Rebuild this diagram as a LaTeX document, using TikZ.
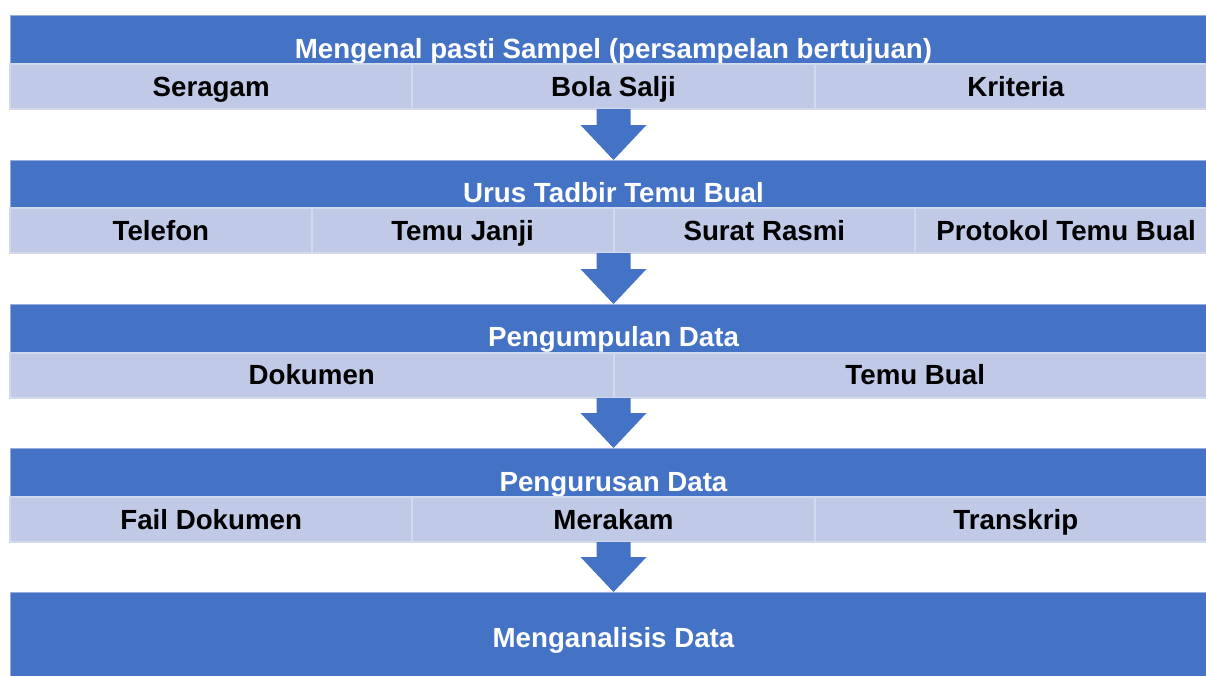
\documentclass[tikz,border=0pt]{standalone}
\usepackage{fontspec}
\setmainfont{Liberation Sans}
\usetikzlibrary{calc}

\definecolor{barblue}{RGB}{68,114,196}
\definecolor{baredge}{RGB}{150,172,218}
\definecolor{cellfill}{RGB}{192,201,230}
\definecolor{celledge}{RGB}{210,216,237}

\tikzset{
  every node/.style={inner sep=0pt, outer sep=0pt, font=\fontsize{27.7}{33}\selectfont\bfseries},
  stagebar/.style={rectangle, fill=barblue, draw=baredge, line width=0.8pt,
    minimum width=1207pt, text=white, text height=38pt, text depth=1pt},
  cell/.style={rectangle, fill=cellfill, draw=celledge, line width=2pt,
    minimum height=45pt, text=black, text height=21pt, text depth=2pt},
  cell3/.style={cell, minimum width=402.33pt},
  cell4/.style={cell, minimum width=301.75pt},
  cell2/.style={cell, minimum width=603.5pt},
  blockarrow/.style={fill=barblue},
}

% down arrow from the bottom of one row (#1) to the top of the next bar (#2)
\newcommand\stagearrow[2]{%
  \fill[blockarrow] let \p1=(#1), \p2=(#2) in
    (\x2-17pt,\y1) -- (\x2+17pt,\y1) -- (\x2+17pt,\y2+35pt) -- (\x2+33pt,\y2+35pt)
    -- (\x2,\y2) -- (\x2-33pt,\y2+35pt) -- (\x2-17pt,\y2+35pt) -- cycle;}

\begin{document}
\begin{tikzpicture}[x=1pt,y=-1pt]
\useasboundingbox (0,0) rectangle (1206,675);
\begin{scope}
\clip (0,0) rectangle (1206,675);

% stage 1
\node[stagebar, minimum height=49pt] (b1) at (613.5,39.5) {Mengenal pasti Sampel (persampelan bertujuan)};
\node[cell3] (c11) at (211.17,86.5) {Seragam};
\node[cell3] (c12) at (613.5,86.5) {Bola Salji};
\node[cell3] (c13) at (1015.83,86.5) {Kriteria};
\coordinate (r1) at (613.5,109);

% stage 2
\node[stagebar, minimum height=48pt] (b2) at (613.5,184) {Urus Tadbir Temu Bual};
\node[cell4] (c21) at (160.88,230.5) {Telefon};
\node[cell4] (c22) at (462.63,230.5) {Temu Janji};
\node[cell4] (c23) at (764.38,230.5) {Surat Rasmi};
\node[cell4] (c24) at (1066.13,230.5) {Protokol Temu Bual};
\coordinate (r2) at (613.5,253);

% stage 3
\node[stagebar, minimum height=48pt] (b3) at (613.5,328) {Pengumpulan Data};
\node[cell2] (c31) at (311.75,375) {Dokumen};
\node[cell2] (c32) at (915.25,375) {Temu Bual};
\coordinate (r3) at (613.5,398);

% stage 4
\node[stagebar, minimum height=49pt] (b4) at (613.5,472.5) {Pengurusan Data};
\node[cell3] (c41) at (211.17,519.5) {Fail Dokumen};
\node[cell3] (c42) at (613.5,519.5) {Merakam};
\node[cell3] (c43) at (1015.83,519.5) {Transkrip};
\coordinate (r4) at (613.5,542);

% stage 5
\node[stagebar, minimum height=91pt, text height=20pt] (b5) at (613.5,637.5) {Menganalisis Data};

% arrows between the stages
\stagearrow{r1}{b2.north}
\stagearrow{r2}{b3.north}
\stagearrow{r3}{b4.north}
\stagearrow{r4}{b5.north}
\end{scope}
\end{tikzpicture}
\end{document}
